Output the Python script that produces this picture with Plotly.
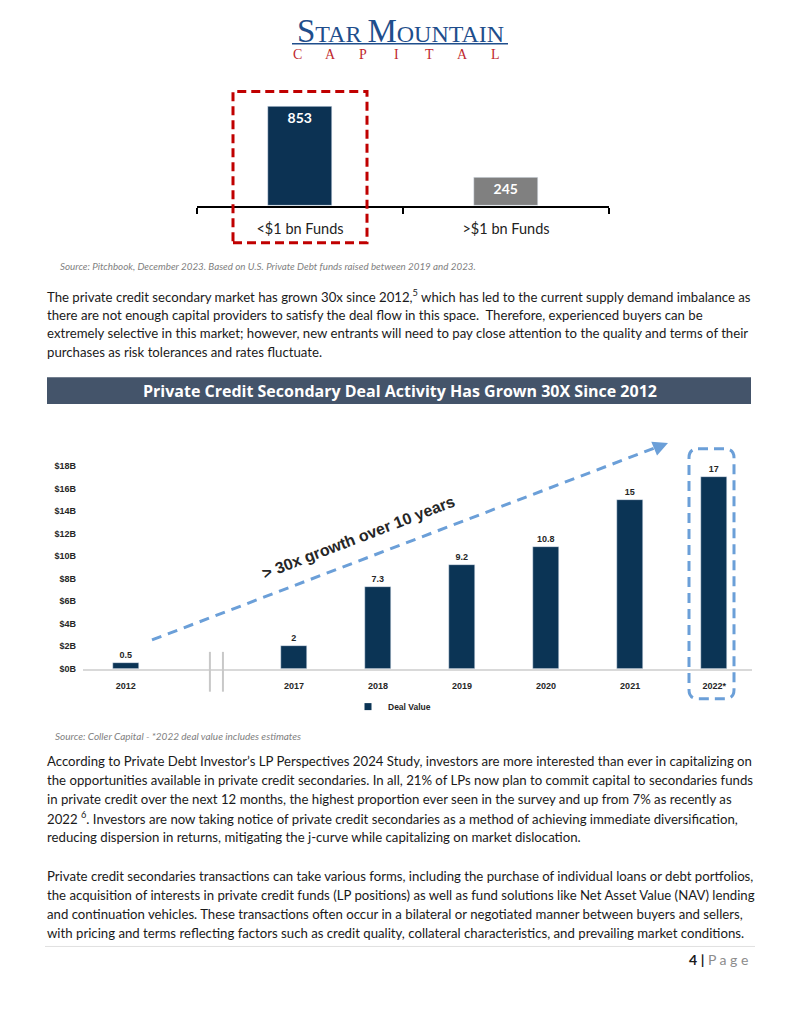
import plotly.graph_objects as go

W, H = 800, 1035
OFF = 8  # the page body keeps an 8px margin round the plot div

# top chart: number of funds by size
fund_sizes = ["<$1 bn Funds", ">$1 bn Funds"]
fund_counts = [853, 245]
fund_colors = ["#0c3253", "#808080"]

# main chart: secondary deal value ($B)
years = ["2012", "2017", "2018", "2019", "2020", "2021", "2022*"]
deal_values = [0.5, 2, 7.3, 9.2, 10.8, 15, 17]
year_slots = ["2012", " ", "2017", "2018", "2019", "2020", "2021", "2022*"]
y_ticks = [0, 2, 4, 6, 8, 10, 12, 14, 16, 18]

para1 = [
    "The private credit secondary market has grown 30x since 2012,<sup>5</sup> which has led to the current supply demand imbalance as",
    "there are not enough capital providers to satisfy the deal flow in this space.  Therefore, experienced buyers can be",
    "extremely selective in this market; however, new entrants will need to pay close attention to the quality and terms of their",
    "purchases as risk tolerances and rates fluctuate.",
]
para2 = [
    "According to Private Debt Investor’s LP Perspectives 2024 Study, investors are more interested than ever in capitalizing on",
    "the opportunities available in private credit secondaries. In all, 21% of LPs now plan to commit capital to secondaries funds",
    "in private credit over the next 12 months, the highest proportion ever seen in the survey and up from 7% as recently as",
    "2022 <sup>6</sup>. Investors are now taking notice of private credit secondaries as a method of achieving immediate diversification,",
    "reducing dispersion in returns, mitigating the j-curve while capitalizing on market dislocation.",
]
para3 = [
    "Private credit secondaries transactions can take various forms, including the purchase of individual loans or debt portfolios,",
    "the acquisition of interests in private credit funds (LP positions) as well as fund solutions like Net Asset Value (NAV) lending",
    "and continuation vehicles. These transactions often occur in a bilateral or negotiated manner between buyers and sellers,",
    "with pricing and terms reflecting factors such as credit quality, collateral characteristics, and prevailing market conditions.",
]

NAVY = "#0b3455"
BLUE_DASH = "#6b9fd8"
BODY_FONT = "Lato"
BODY_SIZE = 13.2
CHART_FONT = dict(family="Liberation Sans", size=9, color="#262626", weight="bold")


def px(v):
    return (v - OFF) / W


def py(v):
    return 1 - (v - OFF) / H


fig = go.Figure()

fig.add_trace(go.Bar(
    x=fund_sizes, y=fund_counts, marker_color=fund_colors, width=0.31,
    text=fund_counts, textposition="inside", insidetextanchor="end",
    textfont=dict(family=BODY_FONT, size=14, color="white", weight="bold"),
    xaxis="x", yaxis="y", showlegend=False, hoverinfo="skip",
))

fig.add_trace(go.Bar(
    x=years, y=deal_values, marker_color=NAVY, width=0.31, name="Deal Value",
    text=deal_values, texttemplate="%{text}", textposition="outside", cliponaxis=False,
    textfont=CHART_FONT, xaxis="x2", yaxis="y2", showlegend=False,
))
# legend entry with a small square key
fig.add_trace(go.Scatter(
    x=[None], y=[None], mode="markers", name="Deal Value",
    marker=dict(symbol="square", size=7, color=NAVY),
    xaxis="x2", yaxis="y2", showlegend=True,
))

fig.update_layout(
    width=W, height=H,
    margin=dict(l=0, r=0, t=0, b=0),
    paper_bgcolor="white", plot_bgcolor="white",
    bargap=0,
    xaxis=dict(
        domain=[px(197), px(609)], type="category", categoryarray=fund_sizes,
        tickson="boundaries", ticks="outside", ticklen=6, tickcolor="black", tickwidth=1.5,
        showline=True, linecolor="black", linewidth=1.5, showgrid=False,
        ticklabelstandoff=9,
        tickfont=dict(family=BODY_FONT, size=14.5, color="#222"),
    ),
    yaxis=dict(domain=[py(207), py(90)], range=[0, 998], visible=False),
    xaxis2=dict(
        domain=[px(83), px(752)], type="category", categoryarray=year_slots,
        range=[-0.51, 7.45], showline=True, linecolor="#d9d9d9", linewidth=1.5,
        showgrid=False, ticks="", anchor="y2", tickfont=CHART_FONT,
        ticklabelstandoff=8,
    ),
    yaxis2=dict(
        domain=[py(672), py(440)], range=[0, 20.5], anchor="x2",
        tickvals=y_ticks, ticktext=[f"${v}B" for v in y_ticks],
        showgrid=False, zeroline=False, showline=False, tickfont=CHART_FONT,
        ticklabelstandoff=6,
    ),
    legend=dict(
        x=0.5 - 16 / W, y=py(710), xanchor="center", yanchor="middle", orientation="h",
        font=dict(family="Liberation Sans", size=8.5, color="#262626", weight="bold"),
        itemwidth=30, tracegroupgap=0,
    ),
)

shapes = []
# logo underline
shapes.append(dict(type="line", xref="paper", yref="paper", x0=px(292), x1=px(508),
                   y0=py(44), y1=py(44), line=dict(color="#1f4e8c", width=1.5)))
# red dashed box round the small funds bar
shapes.append(dict(type="rect", xref="paper", yref="paper", x0=px(233), x1=px(367),
                   y0=py(244), y1=py(92), line=dict(color="#c00000", width=3, dash="9px,5px")))
# header band
shapes.append(dict(type="rect", xref="paper", yref="paper", x0=px(47), x1=px(751),
                   y0=py(406), y1=py(379), fillcolor="#44546a", line_width=0, layer="below"))
# axis break marks
for bx in [1.0, 1.155]:
    shapes.append(dict(type="line", xref="x2", yref="paper", x0=bx, x1=bx,
                       y0=py(695), y1=py(655), line=dict(color="#c8c8c8", width=2)))
# dashed growth arrow
shapes.append(dict(type="line", xref="paper", yref="paper", x0=px(152), y0=py(643),
                   x1=px(660), y1=py(448), line=dict(color=BLUE_DASH, width=3, dash="10px,7px")))
# rounded dashed box around 2022
x0, x1, y0, y1 = px(689), px(734), py(702), py(451)
rx, ry = 9 / W, 9 / H
path = (f"M {x0+rx},{y1} L {x1-rx},{y1} Q {x1},{y1} {x1},{y1-ry} L {x1},{y0+ry} "
        f"Q {x1},{y0} {x1-rx},{y0} L {x0+rx},{y0} Q {x0},{y0} {x0},{y0+ry} "
        f"L {x0},{y1-ry} Q {x0},{y1} {x0+rx},{y1} Z")
shapes.append(dict(type="path", xref="paper", yref="paper", path=path,
                   line=dict(color=BLUE_DASH, width=3, dash="10px,6px")))
# footer rule
shapes.append(dict(type="line", xref="paper", yref="paper", x0=px(45), x1=px(755),
                   y0=py(951), y1=py(951), line=dict(color="#e0e0e0", width=1)))
fig.update_layout(shapes=shapes)

ann = []


def text(x, y, s, size=BODY_SIZE, color="#1a1a1a", family=BODY_FONT, anchor="left", **kw):
    ann.append(dict(x=px(x), y=py(y), xref="paper", yref="paper", text=s, showarrow=False,
                    xanchor=anchor, yanchor="middle",
                    font=dict(family=family, size=size, color=color, **kw)))


# logo
text(400, 31, "<span style='font-size:33px'>S</span>TAR <span style='font-size:33px'>M</span>OUNTAIN",
     size=24, color="#1f4e8c", family="Liberation Serif", anchor="center")
for i, ch in enumerate("CAPITAL"):
    text(297 + 33 * i, 55, ch, size=14, color="#c0282d", family="Liberation Serif", anchor="center")

text(58, 267, "Source: Pitchbook, December 2023. Based on U.S. Private Debt funds raised between 2019 and 2023.",
     size=9.8, color="#7f7f7f", style="italic")
for i, line in enumerate(para1):
    text(45, 297 + 19 * i, line)

text(400, 393, "Private Credit Secondary Deal Activity Has Grown 30X Since 2012",
     size=16, color="white", family="Open Sans", anchor="center", weight="bold")

text(53, 740, "Source: Coller Capital - *2022 deal value includes estimates",
     size=10, color="#7f7f7f", style="italic")
for i, line in enumerate(para2):
    text(45, 765 + 19 * i, line)
for i, line in enumerate(para3):
    text(45, 880 + 19 * i, line)

text(750, 964, "<b>4</b> <b>|</b> <span style='color:#8c8c8c'>P a g e</span>",
     size=14, color="#1a1a1a", anchor="right")

# rotated callout on the growth arrow
ann.append(dict(x=px(358), y=py(540), xref="paper", yref="paper", text="> 30x growth over 10 years",
                showarrow=False, textangle=-21,
                font=dict(family="Liberation Sans", size=16, color="#262626", weight="bold")))
# arrow head
ann.append(dict(x=px(668), y=py(445), xref="paper", yref="paper", text="", showarrow=True,
                ax=-12, ay=5, arrowhead=2, arrowsize=1, arrowwidth=3, arrowcolor=BLUE_DASH))

fig.update_layout(annotations=ann)

fig.write_html("out.html")
